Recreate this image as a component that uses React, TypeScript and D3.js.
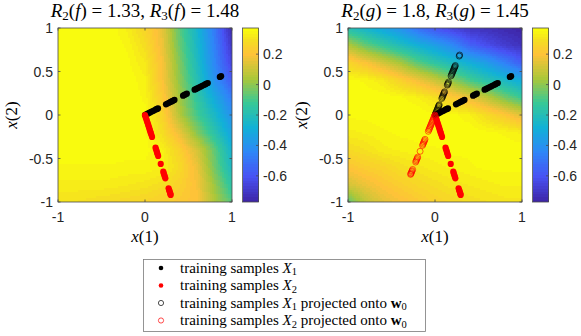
import React from 'react';
import * as d3 from 'd3';

// ---------- data ----------
const GRID_X = [-1, -0.8, -0.6, -0.4, -0.2, 0, 0.2, 0.4, 0.6, 0.8, 1];
const GRID_Y = [1, 0.8, 0.6, 0.4, 0.2, 0, -0.2, -0.4, -0.6, -0.8, -1];

// f(x) sampled on the grid (rows: y from 1 down to -1)
const F_VALUES = [
  [0.37, 0.37, 0.37, 0.37, 0.33, 0.26, 0.16, -0.07, -0.26, -0.48, -0.75],
  [0.37, 0.37, 0.37, 0.37, 0.35, 0.29, 0.17, -0.05, -0.24, -0.46, -0.70],
  [0.37, 0.37, 0.37, 0.37, 0.36, 0.32, 0.19, -0.02, -0.22, -0.44, -0.65],
  [0.37, 0.37, 0.37, 0.37, 0.37, 0.34, 0.20, 0.00, -0.19, -0.40, -0.58],
  [0.37, 0.37, 0.37, 0.37, 0.37, 0.35, 0.23, 0.03, -0.14, -0.31, -0.48],
  [0.37, 0.37, 0.37, 0.37, 0.37, 0.36, 0.26, 0.06, -0.10, -0.24, -0.40],
  [0.37, 0.37, 0.37, 0.37, 0.37, 0.36, 0.29, 0.16, -0.01, -0.17, -0.34],
  [0.37, 0.37, 0.37, 0.37, 0.36, 0.36, 0.34, 0.25, 0.12, -0.06, -0.27],
  [0.35, 0.35, 0.35, 0.35, 0.35, 0.35, 0.34, 0.28, 0.17, -0.04, -0.23],
  [0.33, 0.33, 0.33, 0.33, 0.32, 0.31, 0.29, 0.25, 0.19, 0.02, -0.16],
  [0.30, 0.30, 0.29, 0.28, 0.27, 0.26, 0.24, 0.22, 0.20, 0.05, -0.08],
];

// g(x) sampled on the grid
const G_VALUES = [
  [-0.19, -0.26, -0.33, -0.40, -0.51, -0.60, -0.66, -0.71, -0.73, -0.75, -0.77],
  [0.06, -0.05, -0.13, -0.21, -0.28, -0.35, -0.43, -0.55, -0.62, -0.68, -0.72],
  [0.27, 0.20, 0.12, 0.04, -0.07, -0.15, -0.22, -0.29, -0.36, -0.46, -0.57],
  [0.36, 0.35, 0.32, 0.25, 0.18, 0.10, 0.00, -0.10, -0.18, -0.24, -0.31],
  [0.37, 0.37, 0.37, 0.36, 0.34, 0.30, 0.23, 0.16, 0.08, -0.03, -0.12],
  [0.36, 0.36, 0.37, 0.37, 0.37, 0.36, 0.36, 0.34, 0.28, 0.22, 0.14],
  [0.33, 0.34, 0.35, 0.36, 0.36, 0.37, 0.37, 0.37, 0.36, 0.35, 0.33],
  [0.28, 0.30, 0.33, 0.34, 0.35, 0.35, 0.36, 0.36, 0.37, 0.37, 0.37],
  [0.21, 0.24, 0.26, 0.29, 0.31, 0.33, 0.34, 0.35, 0.36, 0.36, 0.36],
  [0.12, 0.17, 0.21, 0.24, 0.27, 0.29, 0.31, 0.32, 0.33, 0.34, 0.34],
  [-0.06, 0.08, 0.15, 0.19, 0.22, 0.25, 0.27, 0.29, 0.30, 0.31, 0.31],
];

// training samples X1 (black)
const X1_X = [0, 0.018, 0.036, 0.053, 0.071, 0.089, 0.107, 0.125, 0.138, 0.150,
  0.241, 0.258, 0.276, 0.294, 0.312, 0.325, 0.339,
  0.437, 0.450, 0.463, 0.481,
  0.570, 0.588, 0.606, 0.624, 0.642, 0.659, 0.677, 0.695, 0.708, 0.722,
  0.860, 0.875];
const X1_Y = [0, 0.009, 0.018, 0.027, 0.036, 0.045, 0.054, 0.064, 0.070, 0.076,
  0.123, 0.132, 0.141, 0.150, 0.159, 0.166, 0.173,
  0.222, 0.229, 0.236, 0.245,
  0.291, 0.300, 0.309, 0.318, 0.327, 0.336, 0.345, 0.354, 0.361, 0.368,
  0.438, 0.446];

// training samples X2 (red)
const X2_X = [0, 0.006, 0.012, 0.018, 0.024, 0.031, 0.037, 0.043, 0.049, 0.055, 0.061, 0.067, 0.073, 0.081,
  0.121, 0.127, 0.133, 0.139, 0.145, 0.151,
  0.181,
  0.210, 0.216, 0.222, 0.228, 0.234,
  0.271, 0.277, 0.282, 0.288, 0.292, 0.295];
const X2_Y = [0, -0.019, -0.038, -0.057, -0.076, -0.095, -0.114, -0.133, -0.152, -0.171, -0.190, -0.209, -0.228, -0.252,
  -0.376, -0.395, -0.414, -0.433, -0.452, -0.471,
  -0.562,
  -0.652, -0.671, -0.690, -0.709, -0.728,
  -0.843, -0.862, -0.876, -0.895, -0.909, -0.919];

// projection direction w0
const W0 = [0.38, 0.925];

const X_TICKS = [-1, 0, 1];
const Y_TICKS = [1, 0.5, 0, -0.5, -1];
const CB_TICKS = [0.2, 0, -0.2, -0.4, -0.6];
const C_MIN = -0.772;
const C_MAX = 0.372;
// parula colormap stops (position in [0,1], colour), used as a 64-entry colormap
const PARULA_POS = [0, 0.143, 0.286, 0.429, 0.571, 0.714, 0.857, 0.937, 1];
const PARULA = ['#3e26a8', '#4852f4', '#2e87f7', '#12b1d6', '#37c897', '#abc739', '#fec338', '#f5de21', '#f9fb0e'];
const N_COLORS = 64;

const LEGEND_ITEMS = [
  { kind: 'filled', color: '#000000', main: 'training samples ', sub: '1', rest: '' },
  { kind: 'filled', color: '#ff0000', main: 'training samples ', sub: '2', rest: '' },
  { kind: 'open', color: '#000000', main: 'training samples ', sub: '1', rest: ' projected onto ' },
  { kind: 'open', color: '#ff0000', main: 'training samples ', sub: '2', rest: ' projected onto ' },
];

// ---------- helpers ----------
const tScale = d3.scaleLinear<string>().domain(PARULA_POS).range(PARULA).interpolate(d3.interpolateRgb).clamp(true);
const COLORMAP = d3.range(N_COLORS).map((k) => tScale(k / (N_COLORS - 1)));
const idxScale = d3.scaleQuantize<number>().domain([C_MIN, C_MAX]).range(d3.range(N_COLORS));
function colorOf(v: number) {
  const c = Math.max(C_MIN, Math.min(C_MAX, v));
  return COLORMAP[idxScale(c)];
}

function sampleGrid(grid: number[][], x: number, y: number) {
  const nx = GRID_X.length, ny = GRID_Y.length;
  const fx = ((x - GRID_X[0]) / (GRID_X[nx - 1] - GRID_X[0])) * (nx - 1);
  const fy = ((GRID_Y[0] - y) / (GRID_Y[0] - GRID_Y[ny - 1])) * (ny - 1);
  const i = Math.max(0, Math.min(Math.floor(fx), nx - 2));
  const j = Math.max(0, Math.min(Math.floor(fy), ny - 2));
  const tx = fx - i, ty = fy - j;
  const a = grid[j][i] * (1 - tx) + grid[j][i + 1] * tx;
  const b = grid[j + 1][i] * (1 - tx) + grid[j + 1][i + 1] * tx;
  return a * (1 - ty) + b * ty;
}

const SERIF = "'Liberation Serif', 'Times New Roman', serif";
const SANS = "'Liberation Sans', Arial, Helvetica, sans-serif";
const AX_COLOR = '#4a4a4a';

const TOP = 28, BOTTOM = 202, SIZE = 174;

function Panel({ left, grid, sym, r2, r3, showProj }: any) {
  const xS = d3.scaleLinear().domain([-1, 1]).range([left, left + SIZE]);
  const yS = d3.scaleLinear().domain([-1, 1]).range([BOTTOM, TOP]);
  const N = 87;
  const step = 2 / N;
  const cells: any[] = [];
  for (let j = 0; j < N; j++) {
    for (let i = 0; i < N; i++) {
      const x0 = -1 + i * step, x1 = x0 + step;
      const y1 = 1 - j * step, y0 = y1 - step;
      const v = sampleGrid(grid, (x0 + x1) / 2, (y0 + y1) / 2);
      cells.push(
        <rect key={j * N + i} x={xS(x0)} y={yS(y1)} width={xS(x1) - xS(x0) + 0.4}
          height={yS(y0) - yS(y1) + 0.4} fill={colorOf(v)} />
      );
    }
  }
  const cbLeft = left + SIZE + 10.5;
  const cbW = 16;
  const cS = d3.scaleLinear().domain([C_MIN, C_MAX]).range([BOTTOM, TOP]);
  const band = (C_MAX - C_MIN) / N_COLORS;
  const cbRects = COLORMAP.map((c, k) => (
    <rect key={k} x={cbLeft} y={cS(C_MIN + (k + 1) * band)} width={cbW}
      height={cS(C_MIN + k * band) - cS(C_MIN + (k + 1) * band) + 0.4} fill={c} />
  ));
  const cx = left + SIZE / 2;
  const proj = (xs: number[], ys: number[]) =>
    xs.map((x, k) => {
      const s = x * W0[0] + ys[k] * W0[1];
      return [s * W0[0], s * W0[1]];
    });
  const p1 = showProj ? proj(X1_X, X1_Y) : [];
  const p2 = showProj ? proj(X2_X, X2_Y) : [];
  return (
    <g>
      <g shapeRendering="crispEdges">{cells}</g>
      {X1_X.map((x, k) => (
        <circle key={'b' + k} cx={xS(x)} cy={yS(X1_Y[k])} r={3.1} fill="#000" />
      ))}
      {X2_X.map((x, k) => (
        <circle key={'r' + k} cx={xS(x)} cy={yS(X2_Y[k])} r={3.1} fill="#ff0000" />
      ))}
      {p1.map((p, k) => (
        <circle key={'pb' + k} cx={xS(p[0])} cy={yS(p[1])} r={3} fill="none" stroke="#000" strokeWidth={0.6} />
      ))}
      {p2.map((p, k) => (
        <circle key={'pr' + k} cx={xS(p[0])} cy={yS(p[1])} r={3} fill="none" stroke="#ff0000" strokeWidth={0.6} />
      ))}
      <rect x={left} y={TOP} width={SIZE} height={SIZE} fill="none" stroke={AX_COLOR} strokeWidth={0.8} />
      {X_TICKS.map((t) => (
        <g key={'xt' + t}>
          <line x1={xS(t)} x2={xS(t)} y1={BOTTOM} y2={BOTTOM - 2.5} stroke={AX_COLOR} strokeWidth={0.8} />
          <line x1={xS(t)} x2={xS(t)} y1={TOP} y2={TOP + 2.5} stroke={AX_COLOR} strokeWidth={0.8} />
          <text x={xS(t)} y={222} textAnchor="middle" fontFamily={SANS} fontSize={14} fill="#262626">
            {String(t)}
          </text>
        </g>
      ))}
      {Y_TICKS.map((t) => (
        <g key={'yt' + t}>
          <line x1={left} x2={left + 2.5} y1={yS(t)} y2={yS(t)} stroke={AX_COLOR} strokeWidth={0.8} />
          <line x1={left + SIZE} x2={left + SIZE - 2.5} y1={yS(t)} y2={yS(t)} stroke={AX_COLOR} strokeWidth={0.8} />
          <text x={left - 5} y={yS(t) + 5} textAnchor="end" fontFamily={SANS} fontSize={14} fill="#262626">
            {String(t)}
          </text>
        </g>
      ))}
      <g shapeRendering="crispEdges">{cbRects}</g>
      <rect x={cbLeft} y={TOP} width={cbW} height={SIZE} fill="none" stroke={AX_COLOR} strokeWidth={0.8} />
      {CB_TICKS.map((t) => (
        <g key={'ct' + t}>
          <line x1={cbLeft + cbW} x2={cbLeft + cbW - 2.5} y1={cS(t)} y2={cS(t)} stroke={AX_COLOR} strokeWidth={0.8} />
          <text x={cbLeft + cbW + 4.5} y={cS(t) + 5} fontFamily={SANS} fontSize={14} fill="#262626">
            {String(t)}
          </text>
        </g>
      ))}
      <text x={cx} y={16.5} textAnchor="middle" fontFamily={SERIF} fontSize={19} fill="#000">
        <tspan fontStyle="italic">R</tspan>
        <tspan fontSize={13} dy={3.5}>2</tspan>
        <tspan dy={-3.5}>(</tspan>
        <tspan fontStyle="italic">{sym}</tspan>
        <tspan>{') = ' + r2 + ', '}</tspan>
        <tspan fontStyle="italic">R</tspan>
        <tspan fontSize={13} dy={3.5}>3</tspan>
        <tspan dy={-3.5}>(</tspan>
        <tspan fontStyle="italic">{sym}</tspan>
        <tspan>{') = ' + r3}</tspan>
      </text>
      <text x={cx} y={242} textAnchor="middle" fontFamily={SERIF} fontSize={17} fill="#000">
        <tspan fontStyle="italic">x</tspan>
        <tspan>(1)</tspan>
      </text>
      <text transform={`translate(${left - 41},${(TOP + BOTTOM) / 2}) rotate(-90)`} textAnchor="middle"
        fontFamily={SERIF} fontSize={17} fill="#000">
        <tspan fontStyle="italic">x</tspan>
        <tspan>(2)</tspan>
      </text>
    </g>
  );
}

function Legend() {
  const x0 = 143.5, y0 = 259.5, w = 282, h = 72;
  const rowY = [272.5, 290, 307.5, 325];
  return (
    <g>
      <rect x={x0} y={y0} width={w} height={h} fill="#fff" stroke="#7a7a7a" strokeWidth={0.8} />
      {LEGEND_ITEMS.map((it, k) => (
        <g key={k}>
          {it.kind === 'filled' ? (
            <circle cx={161} cy={rowY[k] - 4.5} r={2.3} fill={it.color} />
          ) : (
            <circle cx={161} cy={rowY[k] - 4.5} r={2.6} fill="none" stroke={it.color} strokeWidth={0.7} />
          )}
          <text x={180} y={rowY[k]} fontFamily={SERIF} fontSize={15} fill="#000">
            <tspan>{it.main}</tspan>
            <tspan fontStyle="italic">X</tspan>
            <tspan fontSize={10.5} dy={2.5}>{it.sub}</tspan>
            {it.rest ? (
              <>
                <tspan dy={-2.5}>{it.rest}</tspan>
                <tspan fontWeight="bold">w</tspan>
                <tspan fontSize={10.5} dy={2.5}>0</tspan>
              </>
            ) : null}
          </text>
        </g>
      ))}
    </g>
  );
}

export default function App() {
  return (
    <svg width={581} height={336} viewBox="0 0 581 336"
      style={{ position: 'absolute', left: 0, top: 0, background: '#fff' }}>
      <rect x={0} y={0} width={581} height={336} fill="#fff" />
      <Panel left={58} grid={F_VALUES} sym="f" r2="1.33" r3="1.48" showProj={false} />
      <Panel left={348} grid={G_VALUES} sym="g" r2="1.8" r3="1.45" showProj={true} />
      <Legend />
    </svg>
  );
}
